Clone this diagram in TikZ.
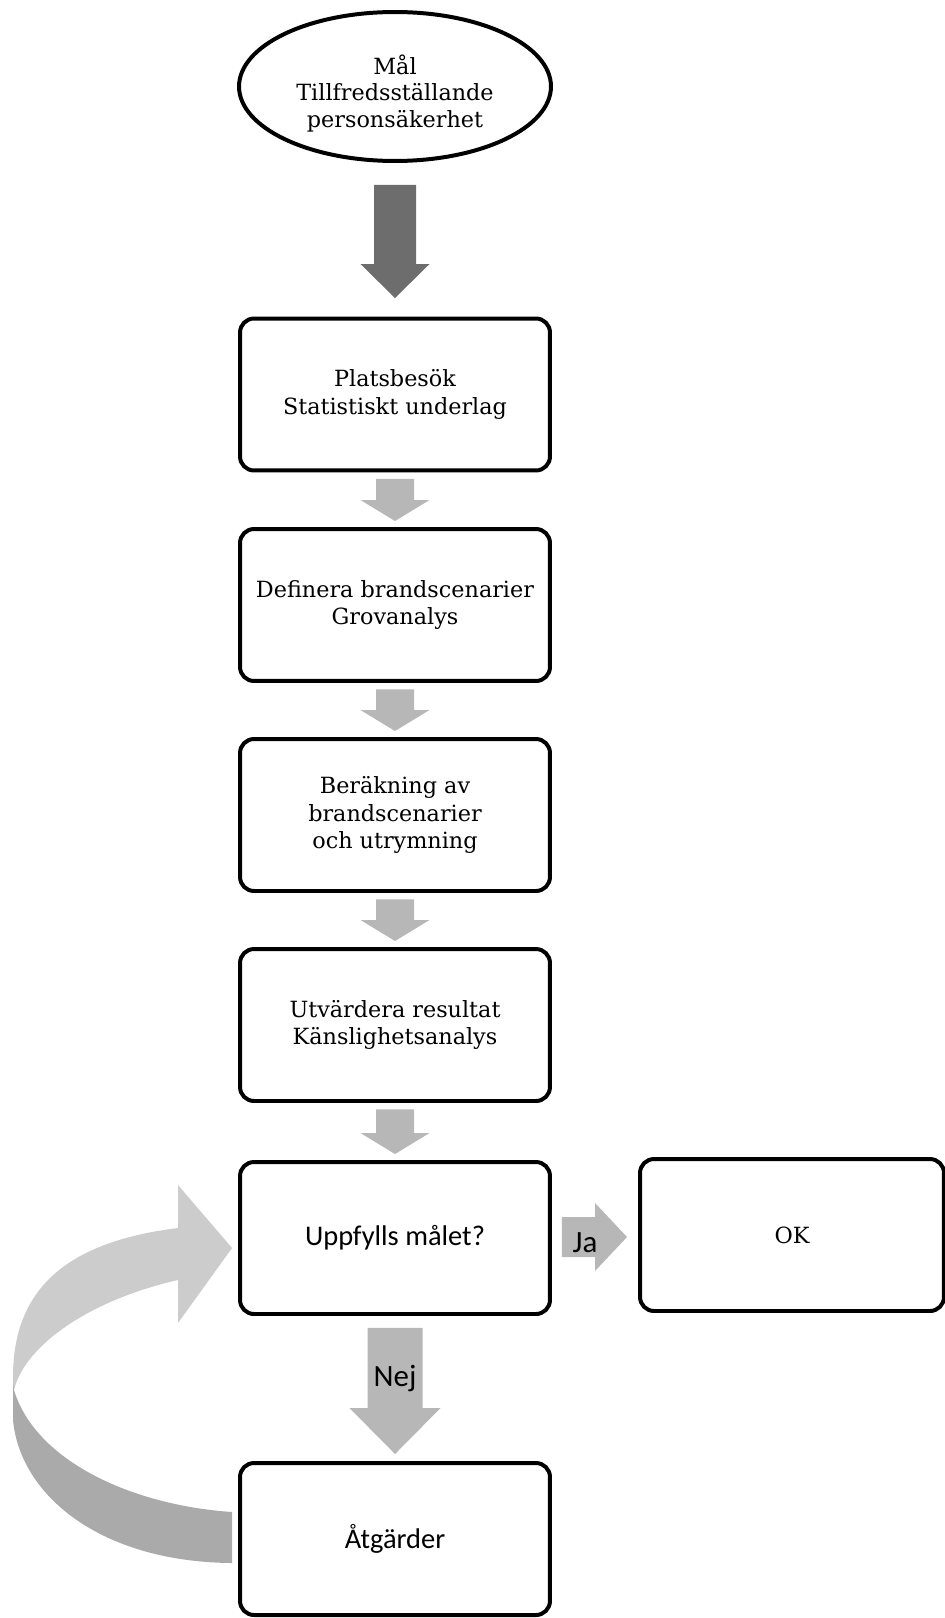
\documentclass[tikz,border=0pt]{standalone}
\usepackage{fontspec}
\setmainfont{DejaVu Serif}
\newfontfamily\calibfont{Carlito}
\usetikzlibrary{shapes.geometric,calc}
\definecolor{blockgray}{RGB}{183,183,183}
\definecolor{darkblock}{RGB}{109,109,109}
\definecolor{curvelight}{RGB}{204,204,204}
\definecolor{curvedark}{RGB}{170,170,170}
% down block arrow: #1 from node, #2 to node, #3 shaft half width, #4 head half width,
% #5 head length, #6 gap below source, #7 gap above target, #8 colour
\newcommand{\blockdown}[8]{%
  \fill[#8] ($(#1.south)+(-#3,#6)$) -- ($(#1.south)+(#3,#6)$)
    -- ($(#2.north)+(#3,-#7-#5)$) -- ($(#2.north)+(#4,-#7-#5)$)
    -- ($(#2.north)+(0,-#7)$) -- ($(#2.north)+(-#4,-#7-#5)$)
    -- ($(#2.north)+(-#3,-#7-#5)$) -- cycle;}
\begin{document}
\begin{tikzpicture}[x=0.02cm,y=-0.02cm,
  goalell/.style={ellipse,draw=black,line width=2.27pt,minimum width=6.24cm,minimum height=2.98cm,
    inner sep=0pt},
  goaltxt/.style={inner sep=0pt,align=center,font=\fontsize{12.7pt}{15.1pt}\selectfont},
  stepbox/.style={rectangle,draw=black,line width=2.27pt,rounded corners=0.28cm,
    minimum width=6.2cm,minimum height=3.04cm,inner sep=0pt,align=center,
    font=\fontsize{12.7pt}{15.8pt}\selectfont},
  calibtext/.style={font=\calibfont\fontsize{16.2pt}{19pt}\selectfont},
  bigcalib/.style={font=\calibfont\fontsize{17.6pt}{21pt}\selectfont,inner sep=0pt}]
\useasboundingbox (0,0) rectangle (945,1618);

\node[goalell] (goal) at (395,86.5) {};
\node[goaltxt] (goaltext) at ($(goal.center)+(0,7)$) {Mål\\Tillfredsställande\\personsäkerhet};
\node[stepbox] (s1) at (395,394.5) {Platsbesök\\Statistiskt underlag};
\node[stepbox] (s2) at (395,605) {Definera brandscenarier\\Grovanalys};
\node[stepbox] (s3) at (395,815) {Beräkning av\\brandscenarier\\och utrymning};
\node[stepbox] (s4) at (395,1025) {Utvärdera resultat\\Känslighetsanalys};
\node[stepbox,calibtext] (s5) at (395,1238) {Uppfylls målet?};
\node[stepbox,minimum width=6.08cm] (ok) at (792,1235) {OK};
\node[stepbox,calibtext] (act) at (395,1539) {Åtgärder};

% vertical block arrows
\blockdown{goal}{s1}{21}{34.5}{34}{22}{18.5}{darkblock}
\blockdown{s1}{s2}{19}{34.5}{21}{6.5}{6}{blockgray}
\blockdown{s2}{s3}{19}{34.5}{21}{6.5}{6}{blockgray}
\blockdown{s3}{s4}{19}{34.5}{21}{6.5}{6}{blockgray}
\blockdown{s4}{s5}{19}{34.5}{21}{6.5}{6}{blockgray}
\blockdown{s5}{act}{27.5}{45.5}{46}{12}{7}{blockgray}
\node[bigcalib,anchor=base] (nej) at ($(s5.south)+(0,71)$) {Nej};

% Ja arrow
\fill[blockgray] ($(s5.east)+(10,-21)$) -- ($(ok.west)+(-43,-18)$) -- ($(ok.west)+(-43,-32)$)
  -- ($(ok.west)+(-11,2)$) -- ($(ok.west)+(-43,36)$) -- ($(ok.west)+(-43,22)$)
  -- ($(s5.east)+(10,19)$) -- cycle;
\node[bigcalib,anchor=base] (ja) at ($(s5.east)+(33,14)$) {Ja};

% curved return arrow from Atgarder to Uppfylls
\fill[curvelight] (13,1377) .. controls (13,1290) and (65,1242) .. (178,1228)
  -- (178,1185) -- ($(s5.west)+(-6,10)$) -- (178,1323) -- (178,1280)
  .. controls (90,1300) and (25,1345) .. (14,1390) -- cycle;
\fill[curvedark] (13,1377) -- (13,1420) .. controls (20,1495) and (100,1562) .. ($(act.west)+(-6,24)$)
  -- ($(act.west)+(-6,-27)$) .. controls (130,1505) and (35,1460) .. (14,1390) -- cycle;
\end{tikzpicture}
\end{document}
